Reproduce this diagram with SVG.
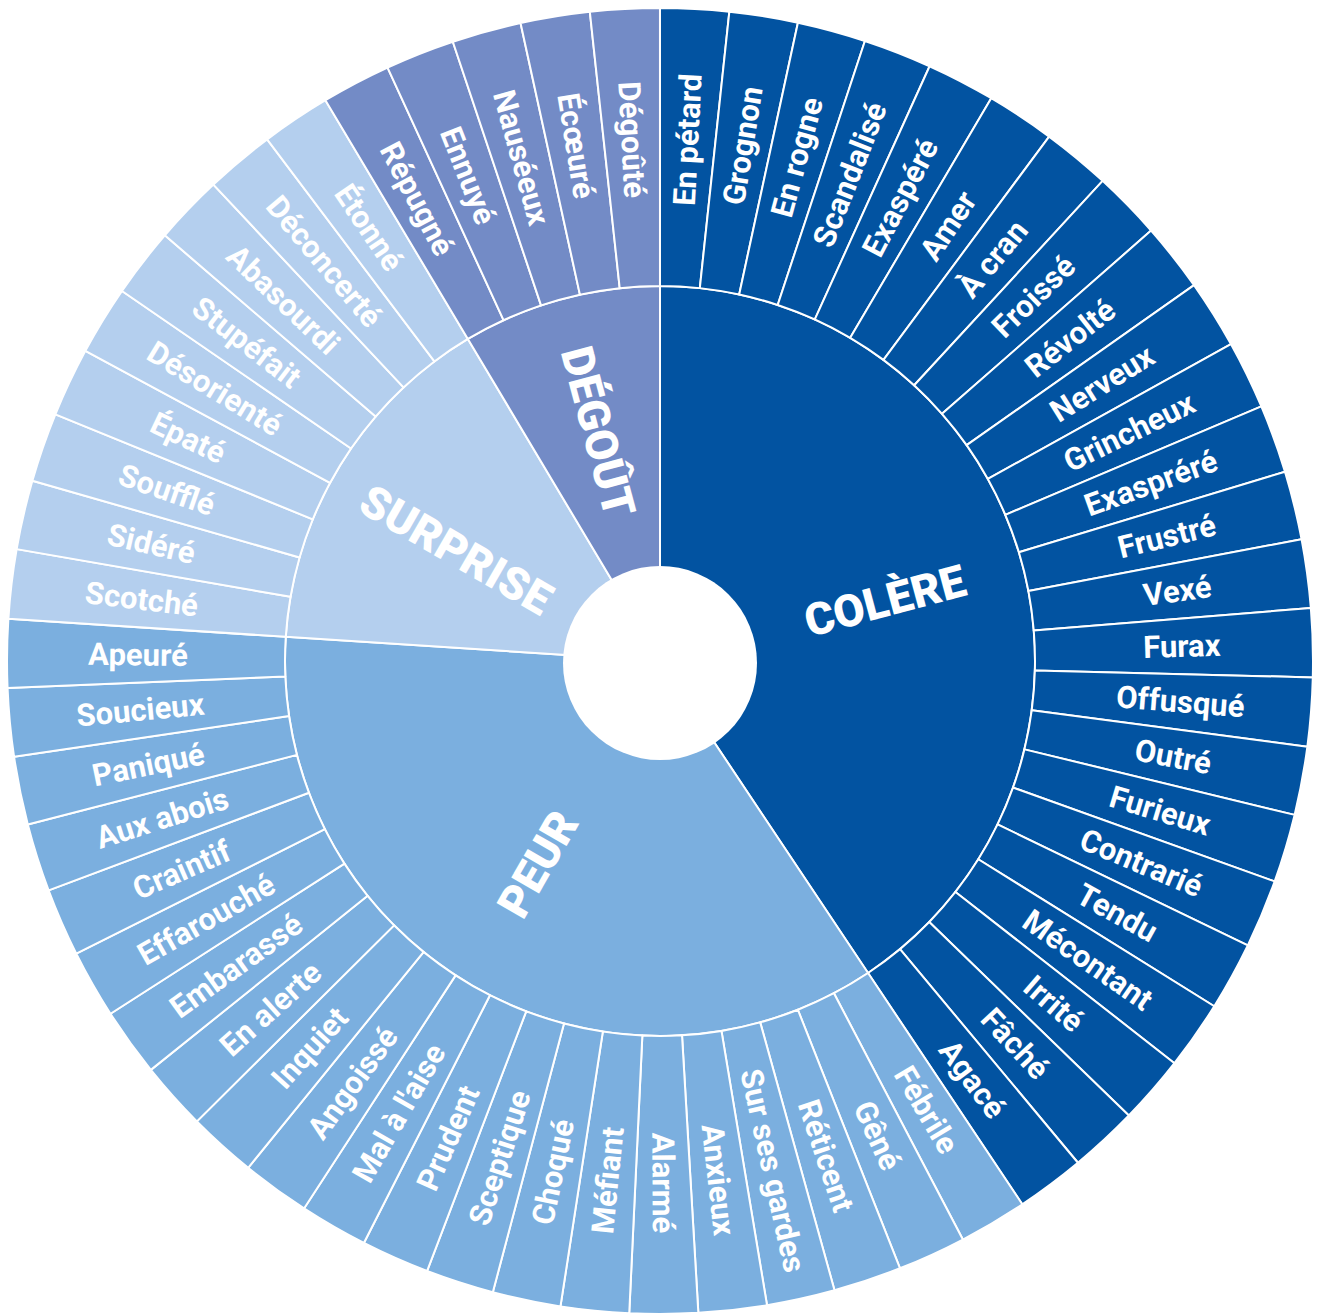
<svg xmlns="http://www.w3.org/2000/svg" xmlns:xlink="http://www.w3.org/1999/xlink" width="1320" height="1313" viewBox="0 0 1320 1313">
<style>
.c{fill:#0253A1}.p{fill:#7BAFDF}.s{fill:#B4CFEE}.d{fill:#738BC6}
.w{stroke:#fff;stroke-width:2;stroke-linejoin:round}
text{font-family:Roboto,"Liberation Sans",sans-serif;fill:#fff;text-anchor:middle;dominant-baseline:central}
.o{font-size:31px;font-weight:700}
.m{font-size:45px;font-weight:900}
</style>
<defs>
<path id="wC" d="M0,-375 L0,-653 A653,653 0 0 1 69.35,-649.31 L39.82,-372.88 A375,375 0 0 0 0,-375 Z"/>
<path id="wP" d="M0,-375 L0,-653 A653,653 0 0 1 69.02,-649.34 L39.63,-372.90 A375,375 0 0 0 0,-375 Z"/>
<path id="wS" d="M0,-375 L0,-653 A653,653 0 0 1 70.12,-649.22 L40.27,-372.83 A375,375 0 0 0 0,-375 Z"/>
</defs>
<rect width="1320" height="1313" fill="#fff"/>

<g id="cat-colere">
<path class="c w" d="M660,661 L660,286 A375,375 0 0 1 868.07,972.98 Z"/>
<text class="m" transform="translate(885 601) rotate(-15)">COLÈRE</text>
</g>
<g id="cat-peur">
<path class="p w" d="M660,661 L868.07,972.98 A375,375 0 0 1 285.78,636.80 Z"/>
<text class="m" transform="translate(538 864) rotate(-60)">PEUR</text>
</g>
<g id="cat-surprise">
<path class="s w" d="M660,661 L285.78,636.80 A375,375 0 0 1 467.87,338.96 Z"/>
<text class="m" transform="translate(456 550) rotate(30)">SURPRISE</text>
</g>
<g id="cat-degout">
<path class="d w" d="M660,661 L467.87,338.96 A375,375 0 0 1 660,286 Z"/>
<text class="m" transform="translate(598 432) rotate(75)">DÉGOÛT</text>
</g>

<g id="ring-colere">
<g id="seg-en-petard"><use xlink:href="#wC" class="c w" transform="translate(660 661) rotate(0)"/><text class="o" x="1182" y="661" transform="rotate(-86.95 660 661)">En pétard</text></g>
<g id="seg-grognon"><use xlink:href="#wC" class="c w" transform="translate(660 661) rotate(6.096)"/><text class="o" x="1182" y="661" transform="rotate(-80.86 660 661)">Grognon</text></g>
<g id="seg-en-rogne"><use xlink:href="#wC" class="c w" transform="translate(660 661) rotate(12.192)"/><text class="o" x="1182" y="661" transform="rotate(-74.76 660 661)">En rogne</text></g>
<g id="seg-scandalise"><use xlink:href="#wC" class="c w" transform="translate(660 661) rotate(18.288)"/><text class="o" x="1182" y="661" transform="rotate(-68.66 660 661)">Scandalisé</text></g>
<g id="seg-exaspere"><use xlink:href="#wC" class="c w" transform="translate(660 661) rotate(24.384)"/><text class="o" x="1182" y="661" transform="rotate(-62.57 660 661)">Exaspéré</text></g>
<g id="seg-amer"><use xlink:href="#wC" class="c w" transform="translate(660 661) rotate(30.48)"/><text class="o" x="1182" y="661" transform="rotate(-56.47 660 661)">Amer</text></g>
<g id="seg-a-cran"><use xlink:href="#wC" class="c w" transform="translate(660 661) rotate(36.576)"/><text class="o" x="1182" y="661" transform="rotate(-50.38 660 661)">À cran</text></g>
<g id="seg-froisse"><use xlink:href="#wC" class="c w" transform="translate(660 661) rotate(42.672)"/><text class="o" x="1182" y="661" transform="rotate(-44.28 660 661)">Froissé</text></g>
<g id="seg-revolte"><use xlink:href="#wC" class="c w" transform="translate(660 661) rotate(48.768)"/><text class="o" x="1182" y="661" transform="rotate(-38.18 660 661)">Révolté</text></g>
<g id="seg-nerveux"><use xlink:href="#wC" class="c w" transform="translate(660 661) rotate(54.864)"/><text class="o" x="1182" y="661" transform="rotate(-32.09 660 661)">Nerveux</text></g>
<g id="seg-grincheux"><use xlink:href="#wC" class="c w" transform="translate(660 661) rotate(60.96)"/><text class="o" x="1182" y="661" transform="rotate(-25.99 660 661)">Grincheux</text></g>
<g id="seg-exasprere"><use xlink:href="#wC" class="c w" transform="translate(660 661) rotate(67.056)"/><text class="o" x="1182" y="661" transform="rotate(-19.90 660 661)">Exaspréré</text></g>
<g id="seg-frustre"><use xlink:href="#wC" class="c w" transform="translate(660 661) rotate(73.152)"/><text class="o" x="1182" y="661" transform="rotate(-13.80 660 661)">Frustré</text></g>
<g id="seg-vexe"><use xlink:href="#wC" class="c w" transform="translate(660 661) rotate(79.248)"/><text class="o" x="1182" y="661" transform="rotate(-7.70 660 661)">Vexé</text></g>
<g id="seg-furax"><use xlink:href="#wC" class="c w" transform="translate(660 661) rotate(85.344)"/><text class="o" x="1182" y="661" transform="rotate(-1.61 660 661)">Furax</text></g>
<g id="seg-offusque"><use xlink:href="#wC" class="c w" transform="translate(660 661) rotate(91.44)"/><text class="o" x="1182" y="661" transform="rotate(4.49 660 661)">Offusqué</text></g>
<g id="seg-outre"><use xlink:href="#wC" class="c w" transform="translate(660 661) rotate(97.536)"/><text class="o" x="1182" y="661" transform="rotate(10.58 660 661)">Outré</text></g>
<g id="seg-furieux"><use xlink:href="#wC" class="c w" transform="translate(660 661) rotate(103.632)"/><text class="o" x="1182" y="661" transform="rotate(16.68 660 661)">Furieux</text></g>
<g id="seg-contrarie"><use xlink:href="#wC" class="c w" transform="translate(660 661) rotate(109.728)"/><text class="o" x="1182" y="661" transform="rotate(22.78 660 661)">Contrarié</text></g>
<g id="seg-tendu"><use xlink:href="#wC" class="c w" transform="translate(660 661) rotate(115.824)"/><text class="o" x="1182" y="661" transform="rotate(28.87 660 661)">Tendu</text></g>
<g id="seg-mecontant"><use xlink:href="#wC" class="c w" transform="translate(660 661) rotate(121.92)"/><text class="o" x="1182" y="661" transform="rotate(34.97 660 661)">Mécontant</text></g>
<g id="seg-irrite"><use xlink:href="#wC" class="c w" transform="translate(660 661) rotate(128.016)"/><text class="o" x="1182" y="661" transform="rotate(41.06 660 661)">Irrité</text></g>
<g id="seg-fache"><use xlink:href="#wC" class="c w" transform="translate(660 661) rotate(134.112)"/><text class="o" x="1182" y="661" transform="rotate(47.16 660 661)">Fâché</text></g>
<g id="seg-agace"><use xlink:href="#wC" class="c w" transform="translate(660 661) rotate(140.208)"/><text class="o" x="1182" y="661" transform="rotate(53.26 660 661)">Agacé</text></g>
</g>

<g id="ring-peur">
<g id="seg-febrile"><use xlink:href="#wP" class="p w" transform="translate(660 661) rotate(146.3)"/><text class="o" x="1182" y="661" transform="rotate(59.33 660 661)">Fébrile</text></g>
<g id="seg-gene"><use xlink:href="#wP" class="p w" transform="translate(660 661) rotate(152.367)"/><text class="o" x="1182" y="661" transform="rotate(65.40 660 661)">Gêné</text></g>
<g id="seg-reticent"><use xlink:href="#wP" class="p w" transform="translate(660 661) rotate(158.433)"/><text class="o" x="1182" y="661" transform="rotate(71.47 660 661)">Réticent</text></g>
<g id="seg-sur-ses-gardes"><use xlink:href="#wP" class="p w" transform="translate(660 661) rotate(164.5)"/><text class="o" x="1182" y="661" transform="rotate(77.53 660 661)">Sur ses gardes</text></g>
<g id="seg-anxieux"><use xlink:href="#wP" class="p w" transform="translate(660 661) rotate(170.567)"/><text class="o" x="1182" y="661" transform="rotate(83.60 660 661)">Anxieux</text></g>
<g id="seg-alarme"><use xlink:href="#wP" class="p w" transform="translate(660 661) rotate(176.633)"/><text class="o" x="1182" y="661" transform="rotate(89.67 660 661)">Alarmé</text></g>
<g id="seg-mefiant"><use xlink:href="#wP" class="p w" transform="translate(660 661) rotate(182.7)"/><text class="o" x="138" y="661" transform="rotate(-84.27 660 661)">Méfiant</text></g>
<g id="seg-choque"><use xlink:href="#wP" class="p w" transform="translate(660 661) rotate(188.767)"/><text class="o" x="138" y="661" transform="rotate(-78.20 660 661)">Choqué</text></g>
<g id="seg-sceptique"><use xlink:href="#wP" class="p w" transform="translate(660 661) rotate(194.833)"/><text class="o" x="138" y="661" transform="rotate(-72.13 660 661)">Sceptique</text></g>
<g id="seg-prudent"><use xlink:href="#wP" class="p w" transform="translate(660 661) rotate(200.9)"/><text class="o" x="138" y="661" transform="rotate(-66.07 660 661)">Prudent</text></g>
<g id="seg-mal-a-l-aise"><use xlink:href="#wP" class="p w" transform="translate(660 661) rotate(206.967)"/><text class="o" x="138" y="661" transform="rotate(-60.00 660 661)">Mal à l'aise</text></g>
<g id="seg-angoisse"><use xlink:href="#wP" class="p w" transform="translate(660 661) rotate(213.033)"/><text class="o" x="138" y="661" transform="rotate(-53.93 660 661)">Angoissé</text></g>
<g id="seg-inquiet"><use xlink:href="#wP" class="p w" transform="translate(660 661) rotate(219.1)"/><text class="o" x="138" y="661" transform="rotate(-47.87 660 661)">Inquiet</text></g>
<g id="seg-en-alerte"><use xlink:href="#wP" class="p w" transform="translate(660 661) rotate(225.167)"/><text class="o" x="138" y="661" transform="rotate(-41.80 660 661)">En alerte</text></g>
<g id="seg-embarasse"><use xlink:href="#wP" class="p w" transform="translate(660 661) rotate(231.233)"/><text class="o" x="138" y="661" transform="rotate(-35.73 660 661)">Embarassé</text></g>
<g id="seg-effarouche"><use xlink:href="#wP" class="p w" transform="translate(660 661) rotate(237.3)"/><text class="o" x="138" y="661" transform="rotate(-29.67 660 661)">Effarouché</text></g>
<g id="seg-craintif"><use xlink:href="#wP" class="p w" transform="translate(660 661) rotate(243.367)"/><text class="o" x="138" y="661" transform="rotate(-23.60 660 661)">Craintif</text></g>
<g id="seg-aux-abois"><use xlink:href="#wP" class="p w" transform="translate(660 661) rotate(249.433)"/><text class="o" x="138" y="661" transform="rotate(-17.53 660 661)">Aux abois</text></g>
<g id="seg-panique"><use xlink:href="#wP" class="p w" transform="translate(660 661) rotate(255.5)"/><text class="o" x="138" y="661" transform="rotate(-11.47 660 661)">Paniqué</text></g>
<g id="seg-soucieux"><use xlink:href="#wP" class="p w" transform="translate(660 661) rotate(261.567)"/><text class="o" x="138" y="661" transform="rotate(-5.40 660 661)">Soucieux</text></g>
<g id="seg-apeure"><use xlink:href="#wP" class="p w" transform="translate(660 661) rotate(267.633)"/><text class="o" x="138" y="661" transform="rotate(0.67 660 661)">Apeuré</text></g>
</g>

<g id="ring-surprise">
<g id="seg-scotche"><use xlink:href="#wS" class="s w" transform="translate(660 661) rotate(273.7)"/><text class="o" x="138" y="661" transform="rotate(6.78 660 661)">Scotché</text></g>
<g id="seg-sidere"><use xlink:href="#wS" class="s w" transform="translate(660 661) rotate(279.864)"/><text class="o" x="138" y="661" transform="rotate(12.95 660 661)">Sidéré</text></g>
<g id="seg-souffle"><use xlink:href="#wS" class="s w" transform="translate(660 661) rotate(286.028)"/><text class="o" x="138" y="661" transform="rotate(19.11 660 661)">Soufflé</text></g>
<g id="seg-epate"><use xlink:href="#wS" class="s w" transform="translate(660 661) rotate(292.192)"/><text class="o" x="138" y="661" transform="rotate(25.27 660 661)">Épaté</text></g>
<g id="seg-desoriente"><use xlink:href="#wS" class="s w" transform="translate(660 661) rotate(298.356)"/><text class="o" x="138" y="661" transform="rotate(31.44 660 661)">Désorienté</text></g>
<g id="seg-stupefait"><use xlink:href="#wS" class="s w" transform="translate(660 661) rotate(304.52)"/><text class="o" x="138" y="661" transform="rotate(37.60 660 661)">Stupéfait</text></g>
<g id="seg-abasourdi"><use xlink:href="#wS" class="s w" transform="translate(660 661) rotate(310.684)"/><text class="o" x="138" y="661" transform="rotate(43.77 660 661)">Abasourdi</text></g>
<g id="seg-deconcerte"><use xlink:href="#wS" class="s w" transform="translate(660 661) rotate(316.848)"/><text class="o" x="138" y="661" transform="rotate(49.93 660 661)">Déconcerté</text></g>
<g id="seg-etonne"><use xlink:href="#wS" class="s w" transform="translate(660 661) rotate(323.012)"/><text class="o" x="138" y="661" transform="rotate(56.09 660 661)">Étonné</text></g>
</g>

<g id="ring-degout">
<g id="seg-repugne"><use xlink:href="#wS" class="d w" transform="translate(660 661) rotate(329.176)"/><text class="o" x="138" y="661" transform="rotate(62.26 660 661)">Répugné</text></g>
<g id="seg-ennuye"><use xlink:href="#wS" class="d w" transform="translate(660 661) rotate(335.34)"/><text class="o" x="138" y="661" transform="rotate(68.42 660 661)">Ennuyé</text></g>
<g id="seg-nauseeux"><use xlink:href="#wS" class="d w" transform="translate(660 661) rotate(341.504)"/><text class="o" x="138" y="661" transform="rotate(74.59 660 661)">Nauséeux</text></g>
<g id="seg-ecoeure"><use xlink:href="#wS" class="d w" transform="translate(660 661) rotate(347.668)"/><text class="o" x="138" y="661" transform="rotate(80.75 660 661)">Écœuré</text></g>
<g id="seg-degoute"><use xlink:href="#wS" class="d w" transform="translate(660 661) rotate(353.832)"/><text class="o" x="138" y="661" transform="rotate(86.91 660 661)">Dégoûté</text></g>
</g>

<circle id="hub" cx="660" cy="663" r="97" fill="#fff"/>
</svg>
